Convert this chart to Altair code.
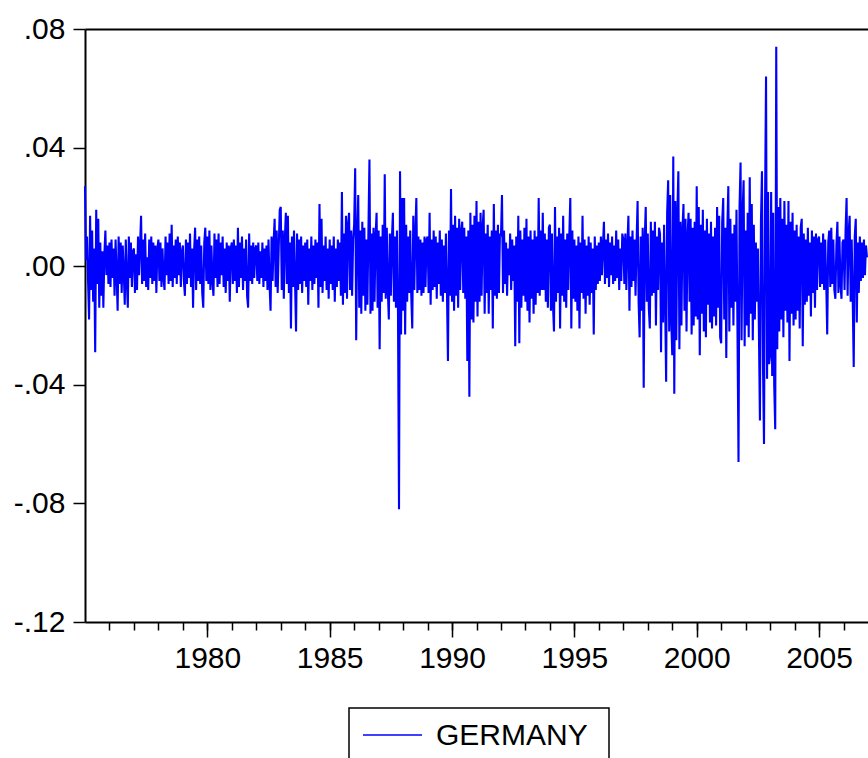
import altair as alt
import pandas as pd

# Weekly-style returns (in thousandths)
years = list(range(1975, 2007))
v1975 = [27, 2, 10, -5, -18, 17, -8, 12, -12, 6, -29, 19, -6, 16, -14, 8, -10, 5, -14, 4, 12, -3, 7, -6]
v1976 = [8, -7, 9, -4, 6, -10, 9, -3, -15, 10, -6, 8, -9, 7, -2, -13, 9, -5, -14, 10, -4, 8, -7, 5]
v1977 = [6, -9, 4, -8, 10, -3, 7, 17, -6, 9, -5, 11, -7, 3, -8, 9, -4, 10, -6, 8, -5, 7, -9, 6]
v1978 = [9, -5, 8, -7, 6, -4, -8, 10, -3, 8, -6, 11, -5, 14, -7, 7, -4, 9, -6, 10, -3, 8, -7, 5]
v1979 = [7, -5, -10, 9, -6, 8, -4, 11, -7, 6, -14, 5, 13, -8, 9, -5, 10, -6, 7, -9, -14, 8, 13, -5]
v1980 = [10, -6, 12, -8, 7, -5, -10, 11, -4, 9, -7, 11, -6, 8, -3, 10, -7, 6, -9, 8, -5, 7, -12, 6]
v1981 = [8, -6, 9, -5, 7, -9, 13, -7, 8, -4, 10, -8, 6, -5, 9, -10, -14, 11, -5, 7, -6, 8, -4, 6]
v1982 = [7, -5, 8, -6, 5, -4, 8, -7, 6, -5, 7, -8, 9, -6, -15, 10, -5, 8, 16, -7, 12, -9, 6, 19]
v1983 = [20, -8, 12, -11, 9, 18, -6, 17, -9, 8, -21, 10, -7, 12, -5, -22, 11, -8, 9, -6, 10, -9, 7, -5]
v1984 = [8, -7, 9, -13, 6, -5, 10, -8, 7, -6, 9, -4, 8, -14, 21, -7, 16, -9, 7, -5, 10, -8, 6, -11]
v1985 = [9, -6, 7, -8, 10, -12, 6, -7, 9, -5, 8, -10, 25, -13, 11, -9, 17, -11, 14, 18, -8, 12, -10, 9]
v1986 = [14, 33, -25, 10, 24, -14, 12, -16, 15, -10, 13, -15, 9, -13, 12, 36, -16, 11, -15, 13, -12, 10, 18, -14]
v1987 = [12, -28, 10, -12, 14, -9, 31, -11, 13, -8, -18, 11, -10, 9, 18, -12, 10, -14, 12, -16, -82, 32, -23, 23]
v1988 = [-15, 23, -23, 14, -12, 10, -9, 12, -10, -21, 17, -8, 11, 23, -9, 10, -8, 9, -10, 8, -9, 10, -7, 9]
v1989 = [10, -9, 18, -13, 9, -8, 12, -7, 10, -11, 8, -6, 12, -10, 9, -12, 7, -9, 11, -8, -32, 12, -10, 26]
v1990 = [-12, 14, -15, 17, -10, 13, -14, 16, -8, 12, 15, -9, 13, -11, 10, -32, 12, -44, 18, -18, 14, -19, 17, -12]
v1991 = [22, -17, 15, -12, 18, -10, 13, 19, -16, 11, -9, 14, -16, 10, -8, 12, -21, 21, -10, 12, -11, 14, -9, 11]
v1992 = [10, 24, -9, 12, -6, 8, -10, 6, -3, 11, -8, 9, -5, 7, -27, 10, -12, 17, -26, 12, -14, 9, -10, 13]
v1993 = [-12, 16, -15, 10, -19, 12, -11, 9, -16, 12, -13, 10, -9, 23, -10, 12, -8, 18, -8, 11, -12, 9, -14, 13]
v1994 = [14, -15, 11, -13, -22, 20, -12, 10, -9, 13, -21, 11, -10, 17, -12, 9, -14, 11, -8, 10, 23, -21, 12, -11]
v1995 = [9, -12, 7, -15, 10, -21, 8, -9, 17, -11, 9, -16, 7, -10, 10, -13, 8, -9, 6, -23, 10, -8, 7, -6]
v1996 = [8, -5, 10, -3, 7, 15, -6, 9, -4, 11, -7, 8, -3, 10, -6, 7, -5, 12, -4, 9, -8, 6, -5, 11]
v1997 = [9, -6, 11, -8, 7, 17, -15, 10, -7, 12, -5, 9, -10, 8, 22, -12, -24, 10, -15, 13, -41, 9, 20, -12]
v1998 = [11, -14, -21, 15, -10, 12, -9, 15, -20, 10, -8, 13, 11, -29, 8, -19, 14, -12, -39, 18, 29, -22, 24, -18]
v1999 = [-30, 37, -43, 22, -25, 18, 32, -28, 15, -20, 12, 21, -15, 16, -22, 10, 18, -12, 16, -23, 13, -20, 15, -17]
v2000 = [27, -18, 20, -30, 14, -16, 19, -22, 12, -24, 16, -13, 11, -19, 15, -21, 10, -17, 13, -20, 20, -14, 17, -24]
v2001 = [-26, 15, 23, -18, 13, -31, 12, 27, -22, 16, -14, 11, -20, 14, -12, 19, -23, -66, 20, 35, -25, 18, 29, -27]
v2002 = [12, -20, 18, -24, 30, -16, 21, -25, 14, -18, 8, -12, 6, -22, -52, 15, 32, -34, -60, 20, 64, -38, 25, -33]
v2003 = [-30, 25, -37, 18, -40, -55, 74, -28, 20, -22, 23, -18, 16, -24, 22, -15, 14, -19, 22, -32, 15, -16, 18, -20]
v2004 = [12, -18, 14, -15, 10, -21, 13, 16, -27, 11, -13, 9, -12, 13, -10, 8, -17, 12, -9, 10, -14, 11, -8, 9]
v2005 = [10, -7, 8, -6, 11, -8, 9, -5, -23, 8, 12, -7, 13, -6, 9, -8, -11, 7, 15, -9, 10, -6, -11, 8]
v2006 = [9, -8, 12, 23, -10, 11, 17, -12, 9, -11, -34, 10, 16, -19, 8, -9, 10, -5, 8, -4, 9, -3, 7, 3]

series_name = "GERMANY"
y_ticks = [-0.12, -0.08, -0.04, 0.0, 0.04, 0.08]
major_years = [1980, 1985, 1990, 1995, 2000, 2005]
minor_years = list(range(1976, 2007))

all_vals = [v1975, v1976, v1977, v1978, v1979, v1980, v1981, v1982, v1983, v1984,
            v1985, v1986, v1987, v1988, v1989, v1990, v1991, v1992, v1993, v1994,
            v1995, v1996, v1997, v1998, v1999, v2000, v2001, v2002, v2003, v2004,
            v2005, v2006]

rows = []
for yr, vals in zip(years, all_vals):
    n = len(vals)
    for i, v in enumerate(vals):
        rows.append({"t": yr + i / n, "v": v / 1000.0})
df = pd.DataFrame(rows)

FONT = "Liberation Sans"
FS = 30

xscale = alt.Scale(domain=[1975, 2007], nice=False, zero=False)
yscale = alt.Scale(domain=[-0.12, 0.08], nice=False, zero=False)

major_axis = alt.Axis(orient="bottom", values=major_years, format="d", tickSize=15,
                      tickWidth=1.5, tickColor="black", domainColor="black", domainWidth=2,
                      labelFont=FONT, labelFontSize=FS, labelColor="black", labelPadding=6,
                      grid=False, title=None, labelFlush=False, labelOverlap=False)
minor_axis = alt.Axis(orient="bottom", values=minor_years, tickSize=8, tickWidth=1.5,
                      tickColor="black", labels=False, domain=False, grid=False, title=None)
top_axis = alt.Axis(orient="top", ticks=False, labels=False, domain=True, domainColor="black",
                    domainWidth=2, grid=False, title=None)
y_axis = alt.Axis(values=y_ticks,
                  labelExpr="replace(replace(format(datum.value, '.2f'), '0.', '.'), '\u2212', '-')",
                  tickSize=12, tickWidth=1.5, tickColor="black", domainColor="black",
                  domainWidth=2, labelFont=FONT, labelFontSize=FS, labelColor="black",
                  labelPadding=8, grid=False, title=None, labelFlush=False, labelOverlap=False)

line = alt.Chart(df).mark_line(color="#0000FF", strokeWidth=2.1).encode(
    x=alt.X("t:Q", scale=xscale, axis=major_axis),
    y=alt.Y("v:Q", scale=yscale, axis=y_axis),
)

ticks_df = pd.DataFrame({"t": [1975, 2007]})
minor = alt.Chart(ticks_df).mark_point(opacity=0).encode(
    x=alt.X("t:Q", scale=xscale, axis=minor_axis)
)
top = alt.Chart(ticks_df).mark_point(opacity=0).encode(
    x=alt.X("t:Q", scale=xscale, axis=top_axis)
)

one = pd.DataFrame({"label": [series_name]})
legend_box = alt.Chart(one).mark_rect(fill="white", stroke="black", strokeWidth=1.5).encode(
    x=alt.value(264), x2=alt.value(524), y=alt.value(679), y2=alt.value(760)
)
legend_line = alt.Chart(one).mark_rule(color="#0000FF", strokeWidth=1.3).encode(
    x=alt.value(278), x2=alt.value(337), y=alt.value(706)
)
legend_text = alt.Chart(one).mark_text(align="left", baseline="middle", font=FONT,
                                       fontSize=FS, color="black").encode(
    x=alt.value(351), y=alt.value(707), text="label:N"
)

chart = alt.layer(line, minor, top, legend_box, legend_line, legend_text).resolve_axis(
    x="independent"
).resolve_scale(x="shared").properties(
    width=783, height=593,
    padding={"left": 85, "top": 29, "right": 0, "bottom": 136},
    autosize=alt.AutoSizeParams(type="none"),
).configure_view(stroke=None)

chart.save("out.html", embed_options={"renderer": "svg", "actions": False})
